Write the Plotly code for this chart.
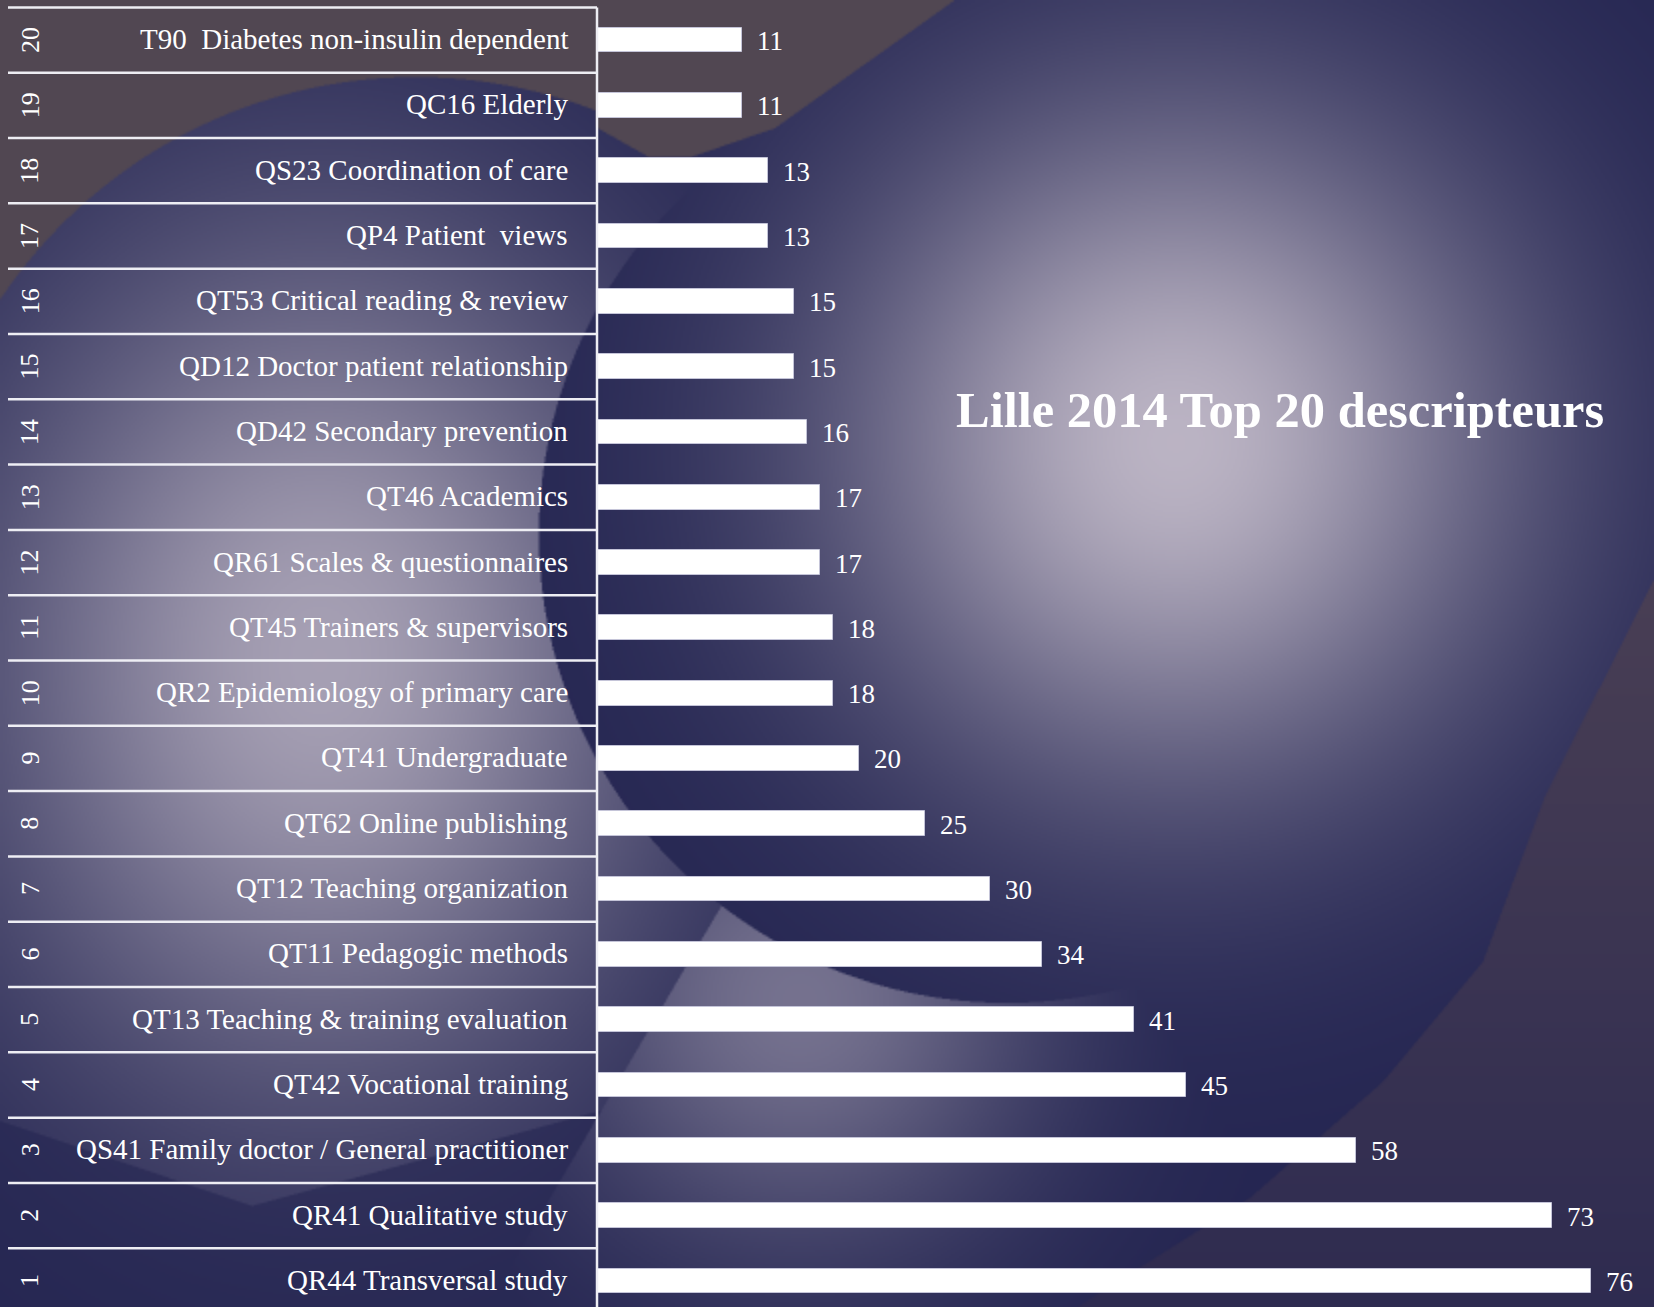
import base64
import struct
import zlib

import numpy as np
import plotly.graph_objects as go

# ---------------- data ----------------
ranks = list(range(1, 21))
descriptors = [
    "QR44 Transversal study",
    "QR41 Qualitative study",
    "QS41 Family doctor / General practitioner",
    "QT42 Vocational training",
    "QT13 Teaching & training evaluation",
    "QT11 Pedagogic methods",
    "QT12 Teaching organization",
    "QT62 Online publishing",
    "QT41 Undergraduate",
    "QR2 Epidemiology of primary care",
    "QT45 Trainers & supervisors",
    "QR61 Scales & questionnaires",
    "QT46 Academics",
    "QD42 Secondary prevention",
    "QD12 Doctor patient relationship",
    "QT53 Critical reading & review",
    "QP4 Patient\u00a0 views",
    "QS23 Coordination of care",
    "QC16 Elderly",
    "T90\u00a0 Diabetes non-insulin dependent",
]
counts = [76, 73, 58, 45, 41, 34, 30, 25, 20, 18, 18, 17, 17, 16, 15, 15, 13, 13, 11, 11]
title_text = "Lille 2014 Top 20 descripteurs"

# ---------------- geometry / style ----------------
W, H = 1654, 1307
PX_PER_UNIT = 13.07          # horizontal pixels per count
BAR_ORIGIN_PX = 598          # pixel where count 0 sits
ROW_PX = 65.31
TOP_PAD_PX = 7.4
X_RANGE = [-BAR_ORIGIN_PX / PX_PER_UNIT, (W - BAR_ORIGIN_PX) / PX_PER_UNIT]
Y_TOP = len(ranks) - 0.5 + TOP_PAD_PX / ROW_PX
Y_RANGE = [Y_TOP - H / ROW_PX, Y_TOP]


def px_to_x(px):
    return (px - BAR_ORIGIN_PX) / PX_PER_UNIT


SERIF = "Liberation Serif, Times New Roman, serif"
WHITE = "#ffffff"
LINE_COL = "#eeeef4"

# ---------------- background raster ----------------
yy, xx = np.mgrid[0:H, 0:W].astype(np.float64) + 0.5
navy = np.array([36.0, 37.0, 81.0])
light = np.array([198.0, 190.0, 204.0])
brown = np.array([81.0, 71.0, 82.0])


def gauss(cx, cy, sx, sy=None):
    sy = sx if sy is None else sy
    return np.exp(-((xx - cx) / sx) ** 2 - ((yy - cy) / sy) ** 2)


in_c = (xx - 1007) ** 2 + (yy - 534) ** 2 < 468 ** 2
out_a = (xx - 416) ** 2 + (yy - 577) ** 2 > 500 ** 2
below_a = yy > np.interp(xx, [0, 252, 600], [1120, 1205, 1110])
g_top = 0.93 * gauss(1176, 443, 340)
g_left = 0.8 * gauss(320, 660, 340, 430) * np.where(below_a, 0.4, 1.0)
g_low = 0.5 * gauss(800, 1000, 240) * (xx > 711 - 0.587 * (yy - 923))
g_out = np.maximum(np.maximum(g_left, g_low), g_top)
g = np.where(in_c, g_top, g_out)
img = navy + (light - navy) * g[..., None]

vline = np.interp(xx, [596, 649, 691, 775, 955], [127, 157, 157, 128, 0])
is_brown = (yy < 577) & (((xx < 596) & out_a) | ((xx >= 596) & (xx < 955) & (yy < vline)))
img[is_brown] = brown

xb = np.interp(yy, [579, 796, 961, 1081, 1197, 1307], [1654, 1545, 1483, 1383, 1250, 1076])
is_r = (yy > 579) & (xx > xb)
t = np.clip((yy - 600) / 707.0, 0, 1)[..., None]
r_col = np.array([72.0, 62.0, 84.0]) * (1 - t) + np.array([46.0, 43.0, 80.0]) * t
img = np.where(is_r[..., None], r_col, img)

small = img[: H - H % 2].reshape((H // 2), 2, W // 2, 2, 3).mean(axis=(1, 3))
arr = np.clip(np.round(small), 0, 255).astype(np.uint8)


def png_data_uri(a):
    h, w, _ = a.shape
    prev = np.zeros_like(a[0])
    rows = []
    for i in range(h):
        rows.append(b"\x02" + ((a[i].astype(np.int16) - prev.astype(np.int16)) % 256).astype(np.uint8).tobytes())
        prev = a[i]
    raw = b"".join(rows)

    def chunk(tag, data):
        return struct.pack(">I", len(data)) + tag + data + struct.pack(">I", zlib.crc32(tag + data) & 0xFFFFFFFF)

    png = (b"\x89PNG\r\n\x1a\n"
           + chunk(b"IHDR", struct.pack(">IIBBBBB", w, h, 8, 2, 0, 0, 0))
           + chunk(b"IDAT", zlib.compress(raw, 9))
           + chunk(b"IEND", b""))
    return "data:image/png;base64," + base64.b64encode(png).decode()


bg_uri = png_data_uri(arr)

# ---------------- figure ----------------
ypos = [r - 1 for r in ranks]

fig = go.Figure()
fig.add_trace(go.Bar(
    x=counts, y=ypos, orientation="h", width=0.38,
    marker=dict(color=WHITE, line=dict(color="#c4c4d8", width=1)),
    hoverinfo="skip",
))

annotations = []
for yv, lab, v, rk in zip(ypos, descriptors, counts, ranks):
    annotations.append(dict(x=px_to_x(570), y=yv, xref="x", yref="y", text=lab,
                            showarrow=False, xanchor="right", yanchor="middle", yshift=1,
                            font=dict(family=SERIF, size=29, color=WHITE)))
    annotations.append(dict(x=v, y=yv, xref="x", yref="y", text=str(v),
                            showarrow=False, xanchor="left", yanchor="middle", xshift=13,
                            yshift=-1, font=dict(family=SERIF, size=27, color=WHITE)))
    annotations.append(dict(x=px_to_x(30), y=yv, xref="x", yref="y", text=str(rk),
                            showarrow=False, xanchor="center", yanchor="middle", textangle=-90,
                            font=dict(family=SERIF, size=26, color=WHITE)))
annotations.append(dict(x=1280 / W, y=1 - 410 / H, xref="paper", yref="paper", text="<b>%s</b>" % title_text,
                        showarrow=False, xanchor="center", yanchor="middle",
                        font=dict(family=SERIF, size=50.5, color=WHITE)))

shapes = []
for yv in ypos:
    shapes.append(dict(type="line", xref="x", yref="y", x0=px_to_x(8), x1=px_to_x(597),
                       y0=yv + 0.5, y1=yv + 0.5, line=dict(color=LINE_COL, width=2.5), layer="above"))
shapes.append(dict(type="line", xref="x", yref="y", x0=px_to_x(597), x1=px_to_x(597),
                   y0=Y_RANGE[0], y1=ypos[-1] + 0.5, line=dict(color=LINE_COL, width=2.5), layer="above"))

fig.update_layout(
    width=W, height=H,
    margin=dict(l=0, r=0, t=0, b=0, pad=0),
    paper_bgcolor="#242551",
    plot_bgcolor="rgba(0,0,0,0)",
    showlegend=False,
    bargap=0,
    xaxis=dict(range=X_RANGE, visible=False, fixedrange=True),
    yaxis=dict(range=Y_RANGE, visible=False, fixedrange=True),
    annotations=annotations,
    shapes=shapes,
    images=[dict(source=bg_uri, xref="paper", yref="paper", x=0, y=1, sizex=1, sizey=1,
                 xanchor="left", yanchor="top", sizing="stretch", layer="below")],
)

fig.write_html("out.html", config={"displayModeBar": False},
               post_script="document.body.style.margin='0';document.body.style.overflow='hidden';")
